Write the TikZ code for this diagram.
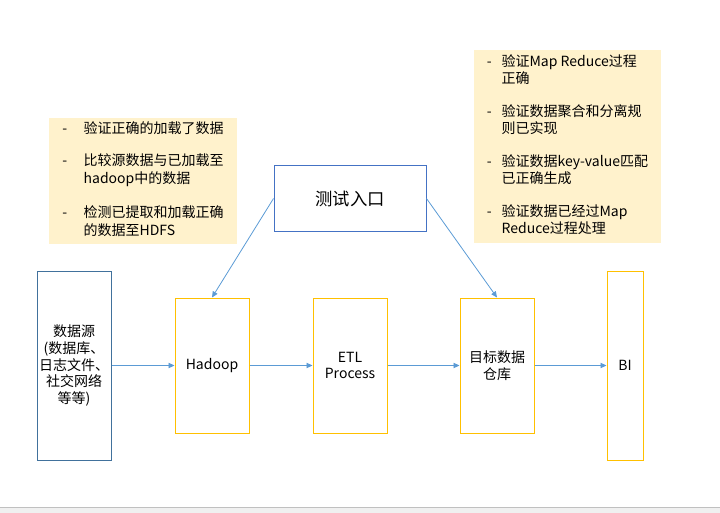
\documentclass[tikz,border=0pt]{standalone}
\usepackage{fontspec}
\setmainfont{Noto Sans CJK SC}
\usepackage{xcolor}
\usetikzlibrary{positioning,arrows.meta}

\definecolor{boxgold}{HTML}{FFC000}
\definecolor{entryblue}{HTML}{4472C4}
\definecolor{srcblue}{HTML}{41719C}
\definecolor{flowblue}{HTML}{5B9BD5}
\definecolor{notefill}{HTML}{FFF2CC}
\definecolor{barfill}{HTML}{F0F0F0}
\definecolor{barline}{HTML}{C0C0C0}

\begin{document}
\begin{tikzpicture}[
    x=0.75pt, y=-0.75pt,
    font=\fontsize{10.5}{12.5}\selectfont,
    box/.style={draw=boxgold, line width=0.75pt, rectangle, align=center, inner xsep=0pt, minimum width=55.5pt, minimum height=101.25pt},
    tallbox/.style={box, minimum height=141.75pt},
    note/.style={fill=notefill, rectangle, inner sep=0pt},
    flow/.style={draw=flowblue, line width=0.6pt, -{Triangle[length=4.5pt,width=4pt]}}
  ]
    \useasboundingbox (0,0) rectangle (720,513);

    % Ligne principale
    \node[tallbox, draw=srcblue] (src) at (74,365.5) {数据源\\(数据库、\\日志文件、\\社交网络\\等等)};
    \node[box, right=47.25pt of src] (hadoop) {Hadoop};
    \node[box, right=47.25pt of hadoop] (etl) {ETL\\Process};
    \node[box, right=54pt of etl] (dwh) {目标数据\\仓库};
    \node[tallbox, minimum width=27pt, right=54pt of dwh] (bi) {BI};

    % Point d'entrée des tests
    \node[draw=entryblue, line width=0.75pt, rectangle, minimum width=114pt, minimum height=48.75pt,
          font=\fontsize{13}{15}\selectfont, above=49.5pt of etl] (entry) {测试入口};

    % Notes de vérification
    \node[note, minimum width=141pt, minimum height=94.5pt] (chkload) at (143,181) {%
      \fontsize{10.5}{13.5}\selectfont
      \begin{tabular}{@{}p{16pt}@{}l@{}}
        - & 验证正确的加载了数据\\[11pt]
        - & 比较源数据与已加载至\\
          & hadoop中的数据\\[12pt]
        - & 检测已提取和加载正确\\
          & 的数据至HDFS
      \end{tabular}};
    \node[note, minimum width=140.25pt, minimum height=144.75pt] (chkmr) at (567.5,146.5) {%
      \fontsize{10.5}{12.4}\selectfont
      \begin{tabular}{@{}p{11pt}@{}l@{}}
        - & 验证Map Reduce过程\\
          & 正确\\[12.4pt]
        - & 验证数据聚合和分离规\\
          & 则已实现\\[12.4pt]
        - & 验证数据key-value匹配\\
          & 已正确生成\\[12.4pt]
        - & 验证数据已经过Map\\
          & Reduce过程处理
      \end{tabular}};

    % Flèches
    \draw[flow] (src) -- (hadoop);
    \draw[flow] (hadoop) -- (etl);
    \draw[flow] (etl) -- (dwh);
    \draw[flow] (dwh) -- (bi);
    \draw[flow] (entry.west) -- (hadoop.north);
    \draw[flow] (entry.east) -- (dwh.north);

    % Barre du bas
    \fill[barfill] (0,507) rectangle (720,513);
    \draw[barline, line width=0.75pt] (0,507) -- (720,507);

  \end{tikzpicture}
\end{document}
